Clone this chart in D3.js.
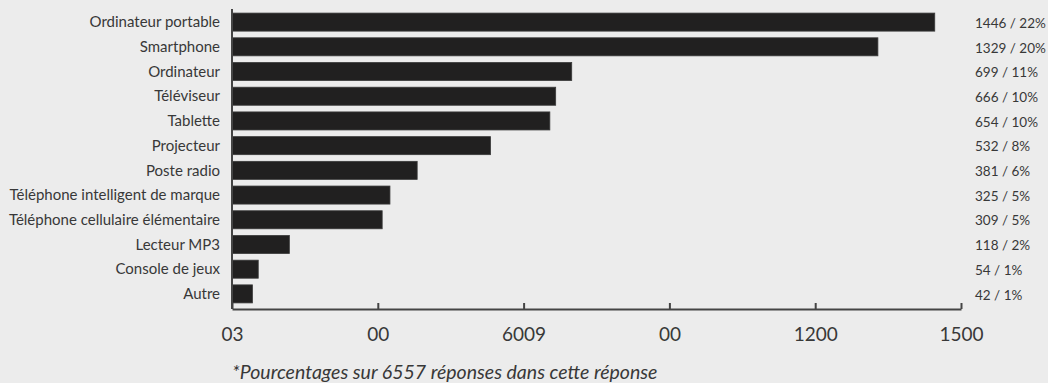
<!DOCTYPE html>
<html>
<head>
<meta charset="utf-8">
<script src="https://cdn.jsdelivr.net/npm/d3@7"></script>
<style>
  html, body { margin: 0; padding: 0; background: #ececec; }
  svg { display: block; }
  text { font-family: Lato, "Open Sans", sans-serif; }
</style>
</head>
<body>
<script>
// Devices reported by respondents
const categories = [
  "Ordinateur portable", "Smartphone", "Ordinateur", "Téléviseur", "Tablette",
  "Projecteur", "Poste radio", "Téléphone intelligent de marque",
  "Téléphone cellulaire élémentaire", "Lecteur MP3", "Console de jeux", "Autre"
];
const counts = [1446, 1329, 699, 666, 654, 532, 381, 325, 309, 118, 54, 42];
const shares = ["22%", "20%", "11%", "10%", "10%", "8%", "6%", "5%", "5%", "2%", "1%", "1%"];
const tickValues = [0, 300, 600, 900, 1200, 1500];
const tickLabels = ["03", "00", "6009", "00", "1200", "1500"];
const footnote = "*Pourcentages sur 6557 réponses dans cette réponse";

(function draw() {
  const W = 1048, H = 383;
  const plotLeft = 232, plotRight = 961, plotTop = 10, plotBottom = 306, axisY = 309;

  const svg = d3.select("body").append("svg").attr("width", W).attr("height", H);
  svg.append("rect").attr("width", W).attr("height", H).attr("fill", "#ececec");

  const x = d3.scaleLinear().domain([0, 1500]).range([plotLeft, plotRight]);
  const y = d3.scaleBand().domain(categories).range([plotTop, plotBottom])
    .paddingInner(0.27).paddingOuter(0.125);

  const rows = categories.map((c, i) => ({ c, v: counts[i], s: shares[i] }));

  // bars
  svg.append("g").selectAll("rect").data(rows).join("rect")
    .attr("x", x(0))
    .attr("y", d => y(d.c))
    .attr("width", d => x(d.v) - x(0))
    .attr("height", y.bandwidth())
    .attr("fill", "#212020")
    .attr("stroke", "#3a3a3a")
    .attr("stroke-width", 0.8);

  // category labels
  svg.append("g").selectAll("text").data(rows).join("text")
    .attr("x", 220)
    .attr("y", d => y(d.c) + y.bandwidth() / 2)
    .attr("dy", "0.35em")
    .attr("text-anchor", "end")
    .attr("font-size", 15)
    .attr("fill", "#383838")
    .text(d => d.c);

  // value / share labels
  svg.append("g").selectAll("text").data(rows).join("text")
    .attr("x", 975)
    .attr("y", d => y(d.c) + y.bandwidth() / 2 + 1)
    .attr("dy", "0.35em")
    .attr("font-size", 13.5)
    .attr("fill", "#383838")
    .text(d => `${d.v} / ${d.s}`);

  // left axis line
  svg.append("line")
    .attr("x1", plotLeft).attr("x2", plotLeft)
    .attr("y1", plotTop - 1).attr("y2", axisY)
    .attr("stroke", "#444").attr("stroke-width", 2);

  // bottom axis with inward ticks
  const xAxis = d3.axisBottom(x)
    .tickValues(tickValues)
    .tickFormat((d, i) => tickLabels[i])
    .tickSizeInner(-6)
    .tickSizeOuter(0)
    .tickPadding(19);

  const gx = svg.append("g").attr("transform", `translate(0,${axisY})`).call(xAxis);
  gx.select(".domain").attr("stroke", "#444").attr("stroke-width", 2);
  gx.selectAll(".tick line").attr("stroke", "#444").attr("stroke-width", 2);
  gx.selectAll(".tick text")
    .attr("font-family", "Lato, 'Open Sans', sans-serif")
    .attr("font-size", 19)
    .attr("fill", "#383838");

  // footnote
  svg.append("text")
    .attr("x", 232).attr("y", 379)
    .attr("font-size", 19.5)
    .attr("font-style", "italic")
    .attr("fill", "#383838")
    .text(footnote);
})();
</script>
</body>
</html>
